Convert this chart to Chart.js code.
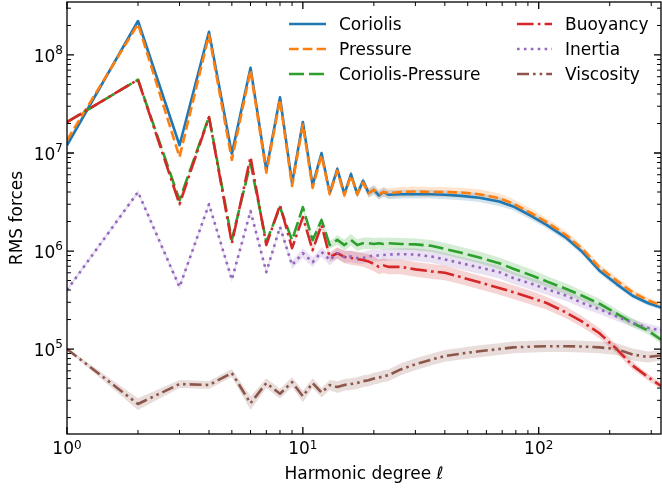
<!DOCTYPE html>
<html><head><meta charset="utf-8">
<script src="https://cdn.jsdelivr.net/npm/chart.js@4.4.0/dist/chart.umd.min.js"></script>
<style>html,body{margin:0;padding:0;background:#fff}#wrap{width:662px;height:490px;position:relative}</style>
</head><body><div id="wrap"><canvas id="c" width="662" height="490"></canvas></div>
<script>
// Harmonic degree
const ell = [1,2,3,4,5,6,7,8,9,10,11,12,13,14,15,16,17,18,19,20,21,22,23,26,30,35,40,47,56,68,78,94,108,131,153,181,214,250,290,330];

const coriolis = [1.2e7,2.22e8,1.2e7,1.72e8,9.8e6,7.4e7,6.7e6,3.7e7,4.9e6,2.07e7,4.7e6,1.0e7,3.9e6,6.9e6,3.8e6,6.1e6,3.8e6,5.2e6,3.9e6,4.2e6,3.7e6,4.0e6,3.75e6,3.8e6,3.8e6,3.8e6,3.75e6,3.65e6,3.5e6,3.2e6,2.85e6,2.25e6,1.85e6,1.36e6,9.8e5,6.3e5,4.6e5,3.5e5,2.95e5,2.65e5];
const pressure = [1.35e7,2.07e8,9.1e6,1.6e8,8.5e6,7.0e7,6.3e6,3.5e7,4.6e6,1.95e7,4.4e6,9.5e6,3.8e6,6.6e6,3.7e6,5.9e6,3.8e6,5.0e6,3.9e6,4.2e6,3.8e6,4.0e6,3.9e6,4.0e6,4.05e6,4.0e6,4.0e6,3.95e6,3.8e6,3.45e6,3.05e6,2.4e6,1.97e6,1.45e6,1.05e6,6.8e5,5.0e5,3.8e5,3.15e5,2.8e5];
const corPress = [2.07e7,5.6e7,3.3e6,2.35e7,1.3e6,7.9e6,1.24e6,2.8e6,1.29e6,2.8e6,1.29e6,2.07e6,1.15e6,1.3e6,1.15e6,1.3e6,1.15e6,1.2e6,1.2e6,1.18e6,1.2e6,1.18e6,1.2e6,1.18e6,1.17e6,1.13e6,1.05e6,9.6e5,8.6e5,7.5e5,6.6e5,5.6e5,4.9e5,4.1e5,3.5e5,2.9e5,2.3e5,1.85e5,1.55e5,1.25e5];
const buoyancy = [2.07e7,5.6e7,3.0e6,2.33e7,1.2e6,9.1e6,1.15e6,2.94e6,1.07e6,2.22e6,1.02e6,1.84e6,8.7e5,9.5e5,8.7e5,8.5e5,8.3e5,8.1e5,7.8e5,7.4e5,6.9e5,7.1e5,6.9e5,6.9e5,6.5e5,6.2e5,6.0e5,5.4e5,4.8e5,4.2e5,3.8e5,3.3e5,2.95e5,2.35e5,1.9e5,1.45e5,1.0e5,6.8e4,5.2e4,4.2e4];
const inertia = [4.0e5,4.0e6,4.3e5,3.0e6,5.1e5,2.56e6,6.1e5,1.76e6,7.2e5,9.5e5,7.7e5,9.8e5,8.1e5,9.5e5,8.7e5,8.8e5,8.5e5,8.5e5,8.8e5,9.0e5,9.0e5,9.1e5,9.2e5,9.3e5,9.2e5,8.8e5,8.2e5,7.5e5,6.8e5,6.1e5,5.3e5,4.6e5,4.1e5,3.5e5,2.95e5,2.55e5,2.15e5,1.85e5,1.65e5,1.55e5];
const viscosity = [1.0e5,2.75e4,4.4e4,4.3e4,5.7e4,2.8e4,4.5e4,3.5e4,4.6e4,3.3e4,4.5e4,3.6e4,4.3e4,4.1e4,4.3e4,4.4e4,4.5e4,4.7e4,4.8e4,5.0e4,5.1e4,5.3e4,5.4e4,6.2e4,7.0e4,7.8e4,8.5e4,9.0e4,9.5e4,1.0e5,1.04e5,1.06e5,1.07e5,1.07e5,1.06e5,1.04e5,1.0e5,8.8e4,8.3e4,8.6e4];

// half-width of the shaded bands, in decades
const corSpread = [.01,.01,.01,.01,.01,.01,.01,.01,.01,.015,.015,.02,.03,.035,.035,.04,.04,.04,.045,.045,.045,.045,.045,.045,.045,.045,.045,.045,.045,.045,.04,.04,.035,.035,.03,.03,.03,.025,.025,.02];
const presSpread = [.01,.01,.01,.01,.01,.01,.01,.01,.01,.02,.02,.025,.035,.04,.04,.045,.045,.045,.05,.05,.05,.05,.05,.05,.05,.05,.05,.05,.05,.05,.045,.045,.04,.04,.035,.035,.035,.03,.03,.025];
const cpSpread = [.01,.01,.01,.01,.01,.01,.01,.01,.01,.03,.03,.035,.04,.05,.055,.06,.06,.06,.06,.06,.06,.06,.06,.06,.06,.06,.06,.06,.06,.06,.06,.06,.055,.055,.05,.05,.045,.045,.04,.04];
const buoySpread = [.01,.01,.01,.01,.01,.01,.01,.01,.01,.03,.035,.04,.05,.06,.065,.07,.07,.07,.075,.075,.075,.075,.075,.075,.075,.075,.075,.07,.07,.07,.07,.07,.065,.06,.055,.05,.045,.04,.035,.03];
const inerSpread = [.02,.02,.03,.02,.03,.02,.03,.03,.04,.05,.05,.05,.055,.055,.06,.06,.06,.06,.06,.06,.06,.06,.06,.06,.065,.065,.065,.065,.065,.065,.06,.06,.06,.055,.05,.05,.045,.04,.04,.035];
const viscSpread = [.01,.06,.04,.04,.04,.07,.05,.05,.05,.06,.05,.05,.05,.06,.06,.06,.06,.06,.06,.06,.06,.06,.06,.06,.06,.06,.06,.06,.06,.06,.06,.06,.06,.06,.06,.06,.06,.06,.055,.05];

const xMajorTicks = [1, 10, 100];
const xTickExp = ['0', '1', '2'];
const yMajorTicks = [1e5, 1e6, 1e7, 1e8];
const yTickExp = ['5', '6', '7', '8'];
const xTitle = 'Harmonic degree \u2113';
const yTitle = 'RMS forces';

const series = [
  {label:'Coriolis', data:coriolis, spread:corSpread, color:'#1f77b4', rgb:'31,119,180', dash:[], order:6},
  {label:'Pressure', data:pressure, spread:presSpread, color:'#ff7f0e', rgb:'255,127,14', dash:[9.6,4.2], order:5},
  {label:'Coriolis-Pressure', data:corPress, spread:cpSpread, color:'#2ca02c', rgb:'44,160,44', dash:[15,5], order:4},
  {label:'Buoyancy', data:buoyancy, spread:buoySpread, color:'#d62728', rgb:'214,39,40', dash:[16.6,4.2,2.6,4.2], order:3},
  {label:'Inertia', data:inertia, spread:inerSpread, color:'#9467bd', rgb:'148,103,189', dash:[2.6,4.3], order:2},
  {label:'Viscosity', data:viscosity, spread:viscSpread, color:'#8c564b', rgb:'140,86,75', dash:[12,4,2.6,4,2.6,4], order:1}
];

const datasets = [];
series.forEach((s, k) => {
  datasets.push({
    data: ell.map((l, i) => ({x: l, y: s.data[i] * Math.pow(10, s.spread[i])})),
    fill: '+1', backgroundColor: 'rgba(' + s.rgb + ',0.2)', borderWidth: 0, showLine: false,
    pointRadius: 0, order: 20 + k
  });
  datasets.push({
    data: ell.map((l, i) => ({x: l, y: s.data[i] / Math.pow(10, s.spread[i])})),
    fill: false, borderWidth: 0, showLine: false, pointRadius: 0, order: 20 + k
  });
});
series.forEach(s => {
  datasets.push({
    label: s.label,
    data: ell.map((l, i) => ({x: l, y: s.data[i]})),
    borderColor: s.color, borderWidth: 2.6, borderDash: s.dash, fill: false,
    pointRadius: 0, tension: 0, order: s.order, borderCapStyle: 'butt', borderJoinStyle: 'round'
  });
});

const FONT = '"DejaVu Sans", sans-serif';

const deco = {
  id: 'deco',
  afterDraw(chart) {
    const {ctx, chartArea: a, scales: {x, y}} = chart;
    ctx.save();
    ctx.strokeStyle = '#000';
    const drawX = (v, len, w) => {
      const px = x.getPixelForValue(v);
      ctx.lineWidth = w;
      ctx.beginPath();
      ctx.moveTo(px, a.bottom); ctx.lineTo(px, a.bottom - len);
      ctx.moveTo(px, a.top); ctx.lineTo(px, a.top + len);
      ctx.stroke();
    };
    const drawY = (v, len, w) => {
      const py = y.getPixelForValue(v);
      ctx.lineWidth = w;
      ctx.beginPath();
      ctx.moveTo(a.left, py); ctx.lineTo(a.left + len, py);
      ctx.moveTo(a.right, py); ctx.lineTo(a.right - len, py);
      ctx.stroke();
    };
    for (let d = 1; d <= 100; d *= 10) {
      for (let m = 2; m <= 9; m++) { const v = d * m; if (v <= x.max) drawX(v, 4, 1); }
    }
    xMajorTicks.forEach(v => drawX(v, 7, 1.3));
    for (let d = 1e4; d <= 1e8; d *= 10) {
      for (let m = 2; m <= 9; m++) { const v = d * m; if (v >= y.min && v <= y.max) drawY(v, 4, 1); }
    }
    yMajorTicks.forEach(v => drawY(v, 7, 1.3));
    ctx.lineWidth = 1.3;
    ctx.strokeRect(a.left, a.top, a.right - a.left, a.bottom - a.top);

    ctx.fillStyle = '#000';
    ctx.textBaseline = 'alphabetic';
    const big = '17px ' + FONT, small = '12px ' + FONT;
    xMajorTicks.forEach((v, i) => {
      const px = x.getPixelForValue(v);
      ctx.font = big; const w1 = ctx.measureText('10').width;
      ctx.font = small; const w2 = ctx.measureText(xTickExp[i]).width;
      const x0 = px - (w1 + w2) / 2;
      ctx.textAlign = 'left';
      ctx.font = big; ctx.fillText('10', x0, a.bottom + 20);
      ctx.font = small; ctx.fillText(xTickExp[i], x0 + w1, a.bottom + 15);
    });
    yMajorTicks.forEach((v, i) => {
      const py = y.getPixelForValue(v);
      ctx.font = big; const w1 = ctx.measureText('10').width;
      ctx.font = small; const w2 = ctx.measureText(yTickExp[i]).width;
      const xr = a.left - 4;
      ctx.textAlign = 'left';
      ctx.font = big; ctx.fillText('10', xr - w2 - w1, py + 7);
      ctx.font = small; ctx.fillText(yTickExp[i], xr - w2, py - 1);
    });
    ctx.font = big;
    ctx.textAlign = 'center';
    ctx.fillText(xTitle, (a.left + a.right) / 2, 478.5);
    ctx.save();
    ctx.translate(21.5, (a.top + a.bottom) / 2);
    ctx.rotate(-Math.PI / 2);
    ctx.fillText(yTitle, 0, 0);
    ctx.restore();

    const cols = [{hx1: 289, hx2: 326, tx: 339}, {hx1: 517, hx2: 552, tx: 565}];
    const rows = [24, 49, 74];
    series.forEach((s, i) => {
      const c = cols[Math.floor(i / 3)], ry = rows[i % 3];
      ctx.save();
      ctx.strokeStyle = s.color; ctx.lineWidth = 2.6; ctx.lineCap = 'butt';
      ctx.setLineDash(s.dash);
      ctx.beginPath(); ctx.moveTo(c.hx1, ry); ctx.lineTo(c.hx2, ry); ctx.stroke();
      ctx.restore();
      ctx.font = big; ctx.textAlign = 'left'; ctx.fillStyle = '#000';
      ctx.fillText(s.label, c.tx, ry + 6);
    });
    ctx.restore();
  }
};

new Chart(document.getElementById('c'), {
  type: 'line',
  data: { datasets },
  options: {
    responsive: false, animation: false, devicePixelRatio: 1,
    layout: { padding: { left: 67, top: 2, right: 1, bottom: 56 } },
    parsing: true,
    scales: {
      x: { type: 'logarithmic', min: 1, max: 330, display: false },
      y: { type: 'logarithmic', min: 13600, max: 3.47e8, display: false }
    },
    plugins: {
      legend: { display: false }, tooltip: { enabled: false },
      filler: { drawTime: 'beforeDatasetsDraw', propagate: false }
    }
  },
  plugins: [deco]
});
</script></body></html>
